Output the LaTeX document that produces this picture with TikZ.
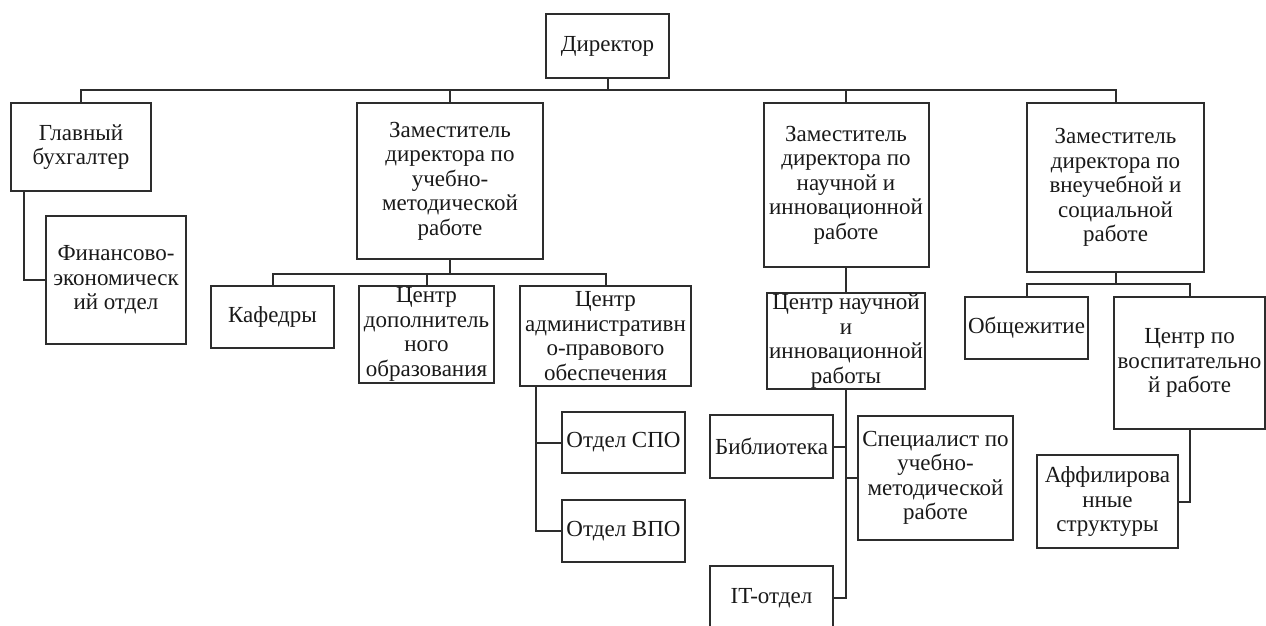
\documentclass[tikz,border=0pt]{standalone}
\usepackage{fontspec}
\setmainfont{Liberation Serif}
\usetikzlibrary{positioning, calc}
\definecolor{linegray}{RGB}{45,45,45}

\begin{document}
\begin{tikzpicture}[x=1pt, y=-1pt,
  orgbox/.style={draw=linegray, line width=2pt, align=center, inner sep=0pt, text=black!90, font=\fontsize{23}{24.5}\selectfont},
  link/.style={draw=linegray, line width=2pt}]
  \useasboundingbox (0,0) rectangle (1266,626);
  \clip (0,0) rectangle (1266,626);

  % Top
  \node[orgbox, minimum width=123, minimum height=64] (dir) at (607.5, 46) {Директор};
  \coordinate (bus) at (0, 90);

  % Deputies
  \node[orgbox, minimum width=140, minimum height=88] (glav) at (81, 147) {Главный\\бухгалтер};
  \node[orgbox, minimum width=186, minimum height=156] (zam1) at (450, 181) {Заместитель\\директора по\\учебно-\\методической\\работе};
  \node[orgbox, minimum width=165, minimum height=164] (zam2) at (846, 185) {Заместитель\\директора по\\научной и\\инновационной\\работе};
  \node[orgbox, minimum width=177, minimum height=169] (zam3) at (1115.5, 187.5) {Заместитель\\директора по\\внеучебной и\\социальной\\работе};

  % Accounting
  \node[orgbox, minimum width=140, minimum height=128] (fin) at (116, 280) {Финансово-\\экономическ\\ий отдел};

  % Teaching
  \node[orgbox, minimum width=123, minimum height=62] (kaf) at (272.5, 317) {Кафедры};
  \node[orgbox, minimum width=135, minimum height=97] (dop) at (426.5, 334.5) {Центр\\дополнитель\\ного\\образования};
  \node[orgbox, minimum width=171, minimum height=100] (adm) at (605.5, 336) {Центр\\административн\\о-правового\\обеспечения};
  \node[orgbox, minimum width=123, minimum height=61] (spo) at (623.5, 442.5) {Отдел СПО};
  \node[orgbox, minimum width=123, minimum height=62] (vpo) at (623.5, 531) {Отдел ВПО};

  % Research
  \node[orgbox, minimum width=158, minimum height=96] (nauch) at (846, 341) {Центр научной\\и\\инновационной\\работы};
  \node[orgbox, minimum width=123, minimum height=63] (bib) at (771.5, 446.5) {Библиотека};
  \node[orgbox, minimum width=155, minimum height=124] (spec) at (935.5, 478) {Специалист по\\учебно-\\методической\\работе};
  \node[orgbox, minimum width=123, minimum height=64] (it) at (771.5, 598) {IT-отдел};

  % Social
  \node[orgbox, minimum width=123, minimum height=62] (obsh) at (1026.5, 328) {Общежитие};
  \node[orgbox, minimum width=151, minimum height=132] (vosp) at (1189.5, 363) {Центр по\\воспитательно\\й работе};
  \node[orgbox, minimum width=141, minimum height=93] (aff) at (1107.5, 501.5) {Аффилирова\\нные\\структуры};

  % Links
  \draw[link] (dir.south) -- (dir.south |- bus);
  \draw[link] (glav.north) -- (glav.north |- bus) -- (zam3.north |- bus) -- (zam3.north);
  \draw[link] (zam1.north) -- (zam1.north |- bus);
  \draw[link] (zam2.north) -- (zam2.north |- bus);
  \draw[link] ([xshift=14pt]glav.south west) |- (fin.west);

  \coordinate (b1) at (450, 274);
  \draw[link] (zam1.south) -- (b1);
  \draw[link] (kaf.north) |- (b1) -| (adm.north);
  \draw[link] (dop.north) -- (dop.north |- b1);
  \draw[link] ([xshift=17pt]adm.south west) |- (vpo.west);
  \draw[link] ([xshift=17pt]adm.south west) |- (spo.west);

  \draw[link] (zam2.south) -- (nauch.north);
  \draw[link] (nauch.south) |- (it.east);
  \draw[link] (bib.east) -- (bib.east -| nauch.south);
  \draw[link] (spec.west) -- (spec.west -| nauch.south);

  \coordinate (b3) at (1115.5, 284);
  \draw[link] (zam3.south) -- (b3);
  \draw[link] (obsh.north) |- (b3) -| (vosp.north);
  \draw[link] (vosp.south) |- (aff.east);
\end{tikzpicture}
\end{document}
